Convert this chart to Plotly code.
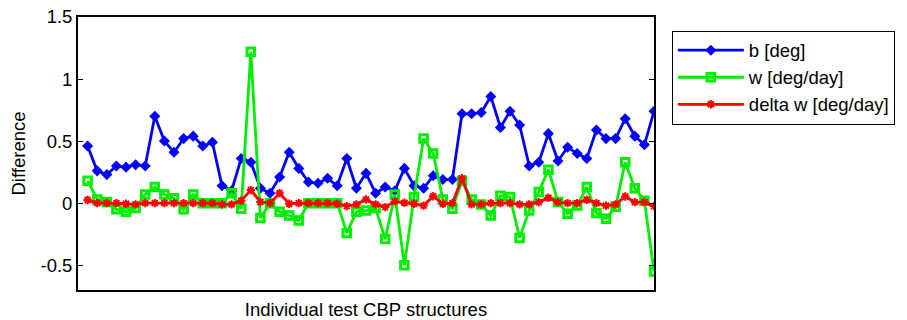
import plotly.graph_objects as go

# Structure index (1..60) and the three difference series
structure_idx = list(range(1, 61))

b_deg = [0.46, 0.26, 0.23, 0.30, 0.29, 0.31, 0.30, 0.70, 0.50, 0.41,
         0.52, 0.54, 0.46, 0.49, 0.14, 0.10, 0.36, 0.33, 0.12, 0.08,
         0.21, 0.41, 0.28, 0.17, 0.16, 0.20, 0.14, 0.36, 0.12, 0.24,
         0.08, 0.13, 0.10, 0.28, 0.14, 0.12, 0.22, 0.19, 0.19, 0.72,
         0.72, 0.73, 0.86, 0.61, 0.74, 0.63, 0.30, 0.33, 0.56, 0.34,
         0.45, 0.40, 0.36, 0.59, 0.52, 0.52, 0.68, 0.54, 0.47, 0.74]

w_deg_day = [0.18, 0.03, 0.01, -0.05, -0.07, -0.04, 0.07, 0.13, 0.07, 0.04,
             -0.05, 0.07, 0.00, 0.00, 0.00, 0.08, -0.045, 1.22, -0.12, 0.00,
             -0.07, -0.10, -0.14, 0.00, 0.00, 0.00, 0.00, -0.24, -0.07, -0.06,
             -0.04, -0.29, 0.07, -0.50, 0.05, 0.52, 0.40, 0.03, -0.045, 0.18,
             0.03, -0.01, -0.10, 0.06, 0.05, -0.28, -0.06, 0.09, 0.27, 0.01,
             -0.085, -0.02, 0.13, -0.08, -0.125, -0.03, 0.33, 0.12, 0.02, -0.55]

delta_w_deg_day = [0.025, 0.0, 0.0, 0.0, -0.005, -0.01, 0.0, 0.0, 0.0, 0.0,
                   0.0, 0.0, 0.0, 0.0, -0.01, -0.01, 0.02, 0.105, 0.01, 0.0,
                   0.08, -0.005, 0.0, 0.0, 0.0, 0.0, -0.005, -0.024, -0.01, 0.03,
                   -0.01, -0.032, 0.014, 0.003, -0.005, -0.02, 0.056, -0.005, 0.0, 0.20,
                   -0.01, -0.01, 0.0, 0.0, 0.0, -0.01, -0.01, 0.008, 0.043, 0.008,
                   0.0, 0.0, 0.027, 0.0, -0.02, -0.01, 0.054, 0.008, 0.008, -0.024]

y_ticks = [-0.5, 0, 0.5, 1, 1.5]
y_tick_text = ["-0.5", "0", "0.5", "1", "1.5"]

FONT = "Liberation Sans, Arial, Helvetica, sans-serif"
FS = 18.5

fig = go.Figure()

fig.add_trace(go.Scatter(
    x=structure_idx, y=b_deg, name="b [deg]", mode="lines+markers",
    line=dict(color="#0000ff", width=2.8),
    marker=dict(symbol="diamond", size=8.5, color="#0000ff"),
))
fig.add_trace(go.Scatter(
    x=structure_idx, y=w_deg_day, name="w [deg/day]", mode="lines+markers",
    line=dict(color="#00ee00", width=2.8),
    marker=dict(symbol="square-open", size=7.5, color="#00ee00",
                line=dict(width=3, color="#00ee00")),
))
fig.add_trace(go.Scatter(
    x=structure_idx, y=delta_w_deg_day, name="delta w [deg/day]", mode="lines+markers",
    line=dict(color="#ff0000", width=2.8),
    marker=dict(symbol="asterisk-open", size=7, color="#ff0000",
                line=dict(width=2, color="#ff0000")),
))

fig.update_layout(
    width=907, height=320,
    margin=dict(l=78, r=249, t=17, b=30),
    paper_bgcolor="white", plot_bgcolor="white",
    font=dict(family=FONT, size=FS, color="black"),
    showlegend=True,
    legend=dict(
        x=1.031, y=0.95, xanchor="left", yanchor="top",
        bordercolor="black", borderwidth=1, bgcolor="white",
        font=dict(family=FONT, size=FS, color="black"),
        itemwidth=66, tracegroupgap=0,
    ),
)

fig.update_xaxes(
    range=[0, 60], showticklabels=False, ticks="",
    showgrid=False, zeroline=False, automargin=False,
    showline=True, linecolor="black", linewidth=1.8, mirror=True,
    title=dict(text="Individual test CBP structures", standoff=15,
               font=dict(family=FONT, size=FS)),
)
fig.update_yaxes(
    range=[-0.7, 1.5], tickvals=y_ticks, ticktext=y_tick_text,
    ticks="inside", ticklen=5, tickcolor="black", tickwidth=1,
    showgrid=False, zeroline=False, automargin=False,
    showline=True, linecolor="black", linewidth=1.8, mirror="ticks",
    tickfont=dict(family=FONT, size=FS),
    title=dict(text="Difference", standoff=10, font=dict(family=FONT, size=FS)),
)

fig.write_html("out.html")
